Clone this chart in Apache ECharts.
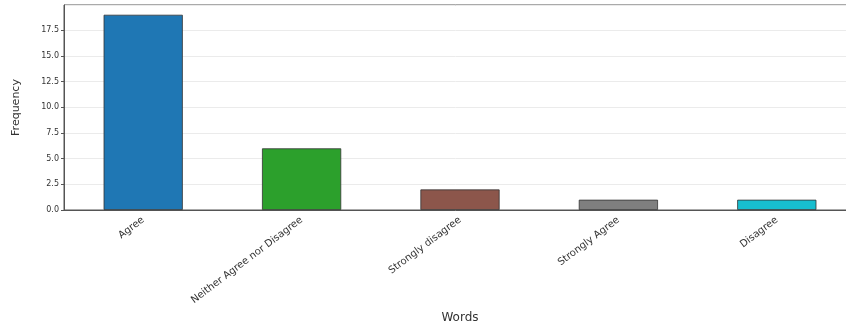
<!DOCTYPE html>
<html>
<head>
<meta charset="utf-8">
<script src="https://cdn.jsdelivr.net/npm/echarts@6/dist/echarts.min.js"></script>
<style>html,body{margin:0;padding:0;background:#fff}#c{width:846px;height:327px}</style>
</head>
<body>
<div id="c"></div>
<script>
const categories = ["Agree", "Neither Agree nor Disagree", "Strongly disagree", "Strongly Agree", "Disagree"];
const frequency = [19, 6, 2, 1, 1];
const barColors = ["#1f77b4", "#2ca02c", "#8c564b", "#7f7f7f", "#17becf"];
const xTitle = "Words";
const yTitle = "Frequency";

const chart = echarts.init(document.getElementById('c'), null, {renderer: 'canvas'});
const font = "DejaVu Sans";
chart.setOption({
  animation: false,
  backgroundColor: '#fff',
  grid: {left: 64, right: -10, top: 5, bottom: 117, show: true, borderColor: '#555', borderWidth: 1, outerBoundsMode: 'none'},
  xAxis: {
    type: 'category',
    data: categories,
    boundaryGap: true,
    name: xTitle,
    nameLocation: 'middle',
    nameGap: 101,
    nameTextStyle: {fontFamily: font, fontSize: 12, color: '#333'},
    axisLine: {lineStyle: {color: '#555', width: 1}},
    axisTick: {alignWithLabel: true, length: 3, lineStyle: {color: '#555'}},
    axisLabel: {rotate: 37, fontFamily: font, fontSize: 10, color: '#333', margin: 9, interval: 0},
    splitLine: {show: false}
  },
  yAxis: {
    type: 'value',
    min: 0,
    max: 19.95,
    interval: 2.5,
    name: yTitle,
    nameLocation: 'middle',
    nameGap: 42,
    nameTextStyle: {fontFamily: font, fontSize: 11, color: '#333'},
    axisLine: {show: true, lineStyle: {color: '#555', width: 1}},
    axisTick: {show: true, length: 3, lineStyle: {color: '#555'}},
    axisLabel: {fontFamily: font, fontSize: 8, color: '#333', margin: 5, showMaxLabel: false,
      formatter: v => v.toFixed(1)},
    splitLine: {show: true, lineStyle: {color: '#ebebeb', width: 1}}
  },
  series: [{
    type: 'bar',
    data: frequency.map((v, i) => ({value: v, itemStyle: {color: barColors[i]}})),
    barWidth: '50%',
    itemStyle: {borderColor: '#333', borderWidth: 0.8}
  }]
});
</script>
</body>
</html>
